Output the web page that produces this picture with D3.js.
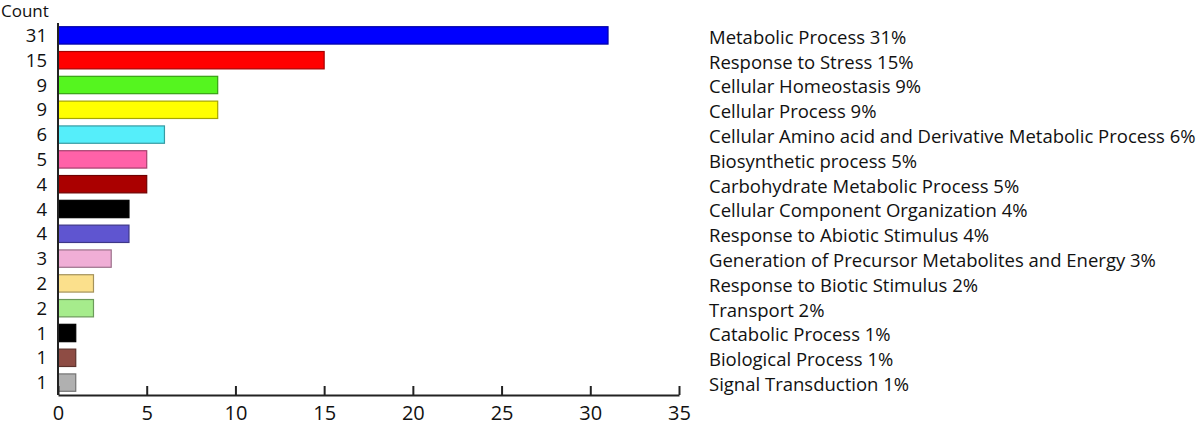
<!DOCTYPE html>
<html>
  <head>
    <script src="https://d3js.org/d3.v7.min.js"></script>
    <style>
      body { margin: 0; background: #fff; }
      text { font-family: "Open Sans", sans-serif; fill: #111; }
    </style>
  </head>
  <body>
    <svg id="chart" width="1200" height="427"></svg>
    <script>
      // data
      const categories = [
        'Metabolic Process 31%',
        'Response to Stress 15%',
        'Cellular Homeostasis 9%',
        'Cellular Process 9%',
        'Cellular Amino acid and Derivative Metabolic Process 6%',
        'Biosynthetic process 5%',
        'Carbohydrate Metabolic Process 5%',
        'Cellular Component Organization 4%',
        'Response to Abiotic Stimulus 4%',
        'Generation of Precursor Metabolites and Energy 3%',
        'Response to Biotic Stimulus 2%',
        'Transport 2%',
        'Catabolic Process 1%',
        'Biological Process 1%',
        'Signal Transduction 1%'
      ];
      const barValues = [31, 15, 9, 9, 6, 5, 5, 4, 4, 3, 2, 2, 1, 1, 1];
      const countLabels = ['31', '15', '9', '9', '6', '5', '4', '4', '4', '3', '2', '2', '1', '1', '1'];
      const colors = [
        '#0000ff', '#ff0000', '#55f51f', '#ffff00', '#55eefa', '#ff62a8',
        '#aa0000', '#000000', '#5f55d0', '#f0aed6', '#fbe08c', '#a6ec8c',
        '#000000', '#8e4c44', '#b0b0b0'
      ];
      const xTicks = [0, 5, 10, 15, 20, 25, 30, 35];

      const svg = d3.select('#chart');
      const plotLeft = 58, plotRight = 679, plotTop = 23, plotBottom = 395;

      const x = d3.scaleLinear().domain([0, 35]).range([plotLeft, plotRight]);
      const y = d3.scaleBand().domain(d3.range(categories.length)).range([plotTop, plotBottom]).paddingInner(0.3).paddingOuter(0.15);

      // bars
      svg.append('g')
        .selectAll('rect')
        .data(barValues)
        .join('rect')
        .attr('x', x(0))
        .attr('y', (d, i) => y(i))
        .attr('width', d => x(d) - x(0))
        .attr('height', y.bandwidth())
        .attr('fill', (d, i) => colors[i])
        .attr('stroke', (d, i) => d3.color(colors[i]).darker(1.2))
        .attr('stroke-width', 1.2);

      // x axis, ticks pointing up
      const xAxis = svg.append('g')
        .attr('transform', `translate(0,${plotBottom})`)
        .call(d3.axisBottom(x).tickValues(xTicks).tickSizeInner(-9).tickSizeOuter(0).tickPadding(8));
      xAxis.select('.domain').attr('stroke', '#222').attr('stroke-width', 2);
      xAxis.selectAll('.tick line').attr('stroke', '#222').attr('stroke-width', 2);
      xAxis.selectAll('.tick text')
        .attr('font-size', 20)
        .attr('dy', 17)
        .style('font-family', '"Open Sans", sans-serif')
        .attr('fill', '#111');

      // y axis line
      svg.append('line')
        .attr('x1', plotLeft).attr('x2', plotLeft)
        .attr('y1', plotTop).attr('y2', plotBottom)
        .attr('stroke', '#222').attr('stroke-width', 2);

      // count labels
      svg.append('g')
        .selectAll('text')
        .data(countLabels)
        .join('text')
        .attr('x', 47)
        .attr('y', (d, i) => y(i) + y.bandwidth() / 2)
        .attr('dy', '0.36em')
        .attr('text-anchor', 'end')
        .attr('font-size', 18.5)
        .text(d => d);

      svg.append('text')
        .attr('x', 1).attr('y', 17)
        .attr('font-size', 17)
        .text('Count');

      // category labels on the right
      svg.append('g')
        .selectAll('text')
        .data(categories)
        .join('text')
        .attr('x', 709)
        .attr('y', (d, i) => y(i) + y.bandwidth() / 2 + 2)
        .attr('dy', '0.35em')
        .attr('font-size', 18.5)
        .text(d => d);
    </script>
  </body>
</html>
